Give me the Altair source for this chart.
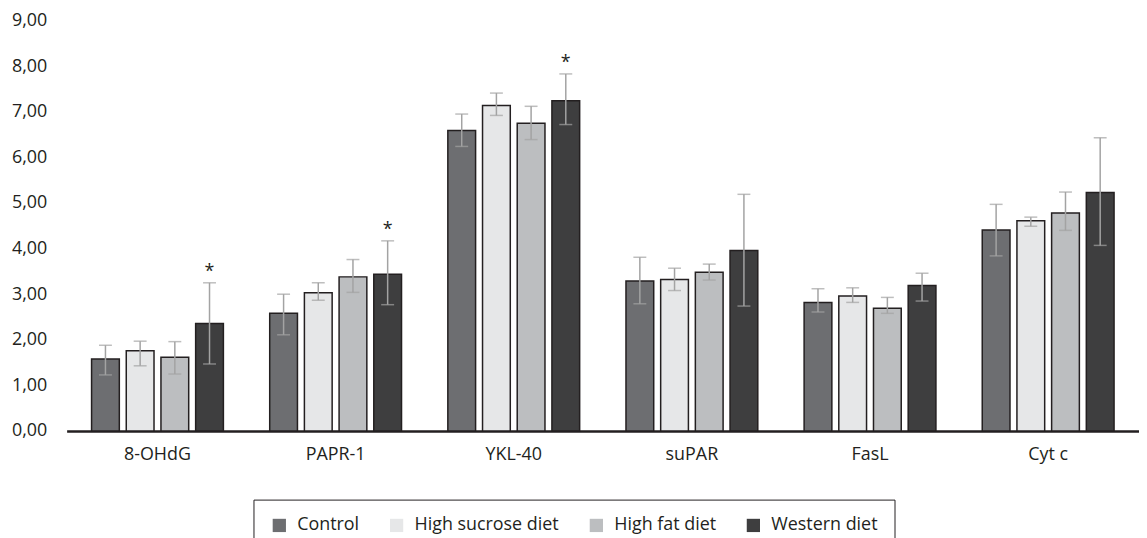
import altair as alt
import pandas as pd

categories = ["8-OHdG", "PAPR-1", "YKL-40", "suPAR", "FasL", "Cyt c"]
diets = ["Control", "High sucrose diet", "High fat diet", "Western diet"]
colors = ["#6d6e71", "#e6e7e8", "#bcbec0", "#3e3e3f"]

control_mean = [1.58, 2.58, 6.59, 3.29, 2.82, 4.41]
control_lo = [1.23, 2.11, 6.24, 2.79, 2.61, 3.84]
control_hi = [1.88, 3.00, 6.95, 3.81, 3.12, 4.97]

hsd_mean = [1.76, 3.03, 7.14, 3.32, 2.96, 4.61]
hsd_lo = [1.43, 2.87, 6.92, 3.08, 2.82, 4.49]
hsd_hi = [1.97, 3.25, 7.41, 3.57, 3.14, 4.69]

hfd_mean = [1.62, 3.38, 6.75, 3.48, 2.69, 4.78]
hfd_lo = [1.25, 3.04, 6.39, 3.31, 2.58, 4.40]
hfd_hi = [1.96, 3.76, 7.12, 3.66, 2.93, 5.24]

wd_mean = [2.36, 3.44, 7.24, 3.96, 3.19, 5.23]
wd_lo = [1.47, 2.77, 6.72, 2.74, 2.85, 4.07]
wd_hi = [3.25, 4.17, 7.83, 5.19, 3.46, 6.43]

wd_star = ["*", "*", "*", "", "", ""]

series = [
    ("Control", control_mean, control_lo, control_hi, [""] * 6),
    ("High sucrose diet", hsd_mean, hsd_lo, hsd_hi, [""] * 6),
    ("High fat diet", hfd_mean, hfd_lo, hfd_hi, [""] * 6),
    ("Western diet", wd_mean, wd_lo, wd_hi, wd_star),
]
rows = []
for name, m, lo, hi, st in series:
    for i, c in enumerate(categories):
        rows.append({"category": c, "diet": name, "mean": m[i], "lo": lo[i],
                     "hi": hi[i], "star": st[i]})
df = pd.DataFrame(rows)

FONT = "Open Sans"
TXT = "#231f20"
ERR = "#a3a3a3"

x_enc = alt.X("category:N", sort=categories, title=None,
              scale=alt.Scale(paddingInner=0.26, paddingOuter=0.14))
xo_enc = alt.XOffset("diet:N", sort=diets,
                     scale=alt.Scale(paddingInner=0.2, paddingOuter=0))

base = alt.Chart(df).encode(x=x_enc, xOffset=xo_enc)

bars = base.mark_bar(stroke=TXT, strokeWidth=1.5).encode(
    y=alt.Y("mean:Q", title=None, scale=alt.Scale(domain=[0, 9], nice=False),
            axis=alt.Axis(values=list(range(10)),
                          labelExpr="replace(format(datum.value, '.2f'), '.', ',')")),
    color=alt.Color("diet:N", sort=diets,
                    scale=alt.Scale(domain=diets, range=colors),
                    legend=alt.Legend(title=None, orient="none", legendX=188, legendY=482,
                                      direction="horizontal", columns=4, columnPadding=28,
                                      symbolType="square", symbolSize=178,
                                      symbolStrokeWidth=0, labelOffset=9,
                                      labelFont=FONT, labelFontSize=18, labelColor=TXT,
                                      padding=17, strokeColor=TXT)),
)

rules = base.mark_rule(color=ERR, strokeWidth=1.5).encode(
    y=alt.Y("lo:Q", title=None), y2="hi:Q")
cap_lo = base.mark_tick(color=ERR, thickness=1.5, size=13).encode(y=alt.Y("lo:Q", title=None))
cap_hi = base.mark_tick(color=ERR, thickness=1.5, size=13).encode(y=alt.Y("hi:Q", title=None))
stars = base.transform_filter("datum.star != ''").mark_text(
    dy=-11, fontSize=18, font=FONT, color=TXT, baseline="middle").encode(
    y=alt.Y("hi:Q", title=None), text="star:N")

chart = alt.layer(bars, rules, cap_lo, cap_hi, stars).properties(
    width=1079, height=413,
    autosize=alt.AutoSizeParams(type="none"),
    padding={"left": 59, "top": 11, "right": 0, "bottom": 106},
).configure_view(stroke=None).configure_axisX(
    domainColor=TXT, domainWidth=2.5, ticks=False, grid=False, labelAngle=0,
    labelFont=FONT, labelFontSize=18, labelColor=TXT, labelPadding=15,
).configure_axisY(
    domain=False, ticks=False, grid=False, labelFont=FONT, labelFontSize=18,
    labelColor=TXT, labelPadding=20,
)

chart.save("out.html", embed_options={"renderer": "svg", "actions": False})
